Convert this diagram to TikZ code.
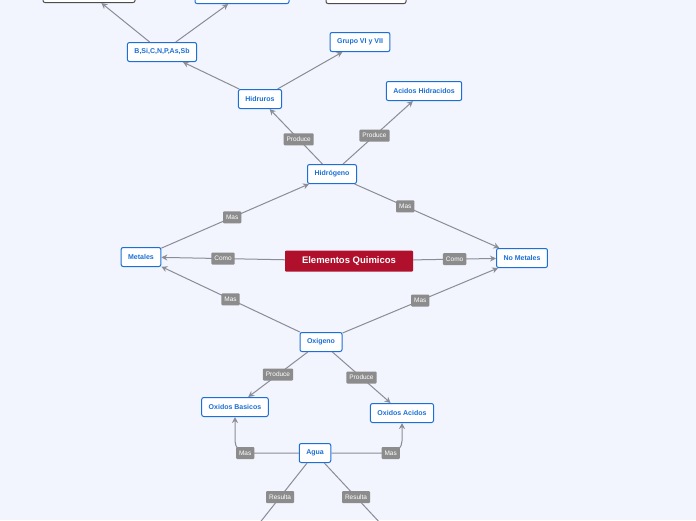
\documentclass[tikz,border=0pt]{standalone}
\usepackage{fontspec}
\setmainfont{Liberation Sans}
\usetikzlibrary{arrows.meta}
\definecolor{bgblue}{HTML}{F2F5FE}
\definecolor{topicblue}{HTML}{1B6FD6}
\definecolor{mainred}{HTML}{B0102C}
\definecolor{lblgray}{HTML}{8C8C8C}
\definecolor{linegray}{HTML}{8A8D95}

\begin{document}
\begin{tikzpicture}[x=1pt, y=-1pt,
  topic/.style={rectangle, rounded corners=2pt, draw=topicblue, fill=white, line width=1pt, text=topicblue, font=\bfseries\fontsize{7}{8}\selectfont, minimum height=19pt, inner xsep=7pt},
  darktopic/.style={topic, draw=black!70},
  maintopic/.style={rectangle, rounded corners=1pt, fill=mainred, text=white, font=\bfseries\fontsize{9.5}{10}\selectfont, minimum width=128pt, minimum height=21pt},
  lbl/.style={rectangle, rounded corners=1pt, fill=lblgray, text=white, font=\fontsize{6.5}{7}\selectfont, inner xsep=3pt, inner ysep=1pt, minimum height=12pt},
  conn/.style={draw=linegray, line width=1pt, -{Stealth[length=6pt, width=6pt]}}]

  \fill[bgblue] (0,0) rectangle (696,520);
  \useasboundingbox (0,0) rectangle (696,520);
  \clip (0,0) rectangle (696,520);

  \node[maintopic] (elem) at (349,261) {Elementos Quimicos};
  \node[topic] (met) at (141,257) {Metales};
  \node[topic] (nomet) at (522,258) {No Metales};
  \node[topic] (hidro) at (332,174) {Hidrógeno};
  \node[topic] (oxi) at (321,342) {Oxigeno};
  \node[topic] (hidruros) at (260,99) {Hidruros};
  \node[topic] (bsi) at (162,52) {B,Si,C,N,P,As,Sb};
  \node[topic] (grupo) at (360,42) {Grupo VI y VII};
  \node[topic] (acidh) at (424,91) {Acidos Hidracidos};
  \node[topic] (oxb) at (235,407) {Oxidos Basicos};
  \node[topic] (oxa) at (402,413) {Oxidos Acidos};
  \node[topic] (agua) at (315,453) {Agua};

  % nodes cut by the top edge
  \node[darktopic, minimum width=92pt] (topa) at (89,-7) {};
  \node[topic, minimum width=94pt] (topb) at (242,-6) {};
  \node[darktopic, minimum width=80pt] (topc) at (366,-6) {};
  \coordinate (outa) at (258,525);
  \coordinate (outb) at (382,525);

  \draw[conn] (elem) -- node[lbl] {Como} (met);
  \draw[conn] (elem) -- node[lbl] {Como} (nomet);
  \draw[conn] (met) -- node[lbl, pos=0.48] {Mas} (hidro);
  \draw[conn] (hidro) -- node[lbl, pos=0.35] {Mas} (nomet);
  \draw[conn] (oxi) -- node[lbl, pos=0.5] {Mas} (met);
  \draw[conn] (oxi) -- node[lbl, pos=0.5] {Mas} (nomet);
  \draw[conn] (hidro) -- node[lbl, pos=0.45] {Produce} (hidruros);
  \draw[conn] (hidro) -- node[lbl, pos=0.45] {Produce} (acidh);
  \draw[conn] (hidruros) -- (bsi);
  \draw[conn] (hidruros) -- (grupo);
  \draw[conn] (bsi) -- (topa);
  \draw[conn] (bsi) -- (topb);
  \draw[conn] (oxi) -- node[lbl, pos=0.5] {Produce} (oxb);
  \draw[conn] (oxi) -- node[lbl, pos=0.5] {Produce} (oxa);
  \draw[conn, rounded corners=12pt] (agua.west) -| node[lbl, pos=0.42] {Mas} (oxb.south);
  \draw[conn, rounded corners=12pt] (agua.east) -| node[lbl, pos=0.42] {Mas} (oxa.south);
  \draw[conn, -] (agua) -- node[lbl, pos=0.55] {Resulta} (outa);
  \draw[conn, -] (agua) -- node[lbl, pos=0.55] {Resulta} (outb);
\end{tikzpicture}
\end{document}
